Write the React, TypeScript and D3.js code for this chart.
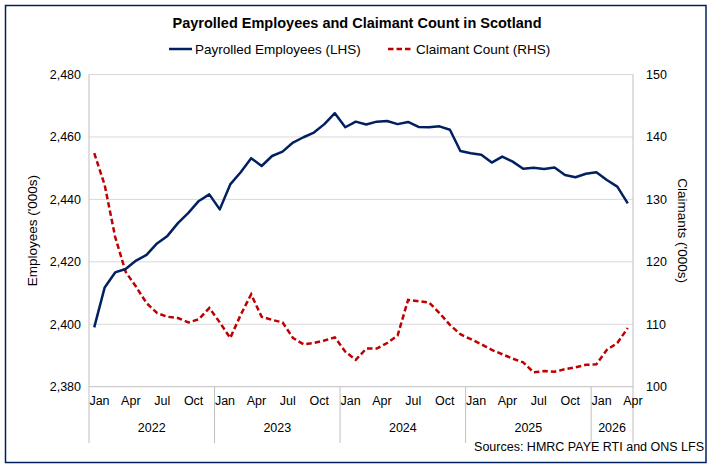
import React, { useEffect, useRef } from "react";
import * as d3 from "d3";

// monthly periods, Jan 2022 to Apr 2026
const periods = [
  "2022-01", "2022-02", "2022-03", "2022-04", "2022-05", "2022-06",
  "2022-07", "2022-08", "2022-09", "2022-10", "2022-11", "2022-12",
  "2023-01", "2023-02", "2023-03", "2023-04", "2023-05", "2023-06",
  "2023-07", "2023-08", "2023-09", "2023-10", "2023-11", "2023-12",
  "2024-01", "2024-02", "2024-03", "2024-04", "2024-05", "2024-06",
  "2024-07", "2024-08", "2024-09", "2024-10", "2024-11", "2024-12",
  "2025-01", "2025-02", "2025-03", "2025-04", "2025-05", "2025-06",
  "2025-07", "2025-08", "2025-09", "2025-10", "2025-11", "2025-12",
  "2026-01", "2026-02", "2026-03", "2026-04",
];

// payrolled employees ('000s), left axis
const employees = [
  2399.0, 2411.8, 2416.6, 2417.7, 2420.4, 2422.2, 2425.9, 2428.3, 2432.4, 2435.7, 2439.5, 2441.6,
  2436.8, 2444.8, 2448.7, 2453.2, 2450.7, 2453.9, 2455.3, 2458.2, 2459.9, 2461.4, 2464.1, 2467.6,
  2463.1, 2464.9, 2464.0, 2464.9, 2465.1, 2464.1, 2464.8, 2463.2, 2463.1, 2463.4, 2462.3, 2455.5,
  2454.8, 2454.3, 2451.8, 2453.7, 2452.1, 2449.8, 2450.1, 2449.7, 2450.2, 2447.8, 2447.1, 2448.2,
  2448.7, 2446.2, 2444.1, 2438.7,
];

// claimant count ('000s), right axis
const claimants = [
  137.4, 132.3, 124.0, 118.4, 116.0, 113.4, 111.8, 111.2, 111.0, 110.3, 110.8, 112.6,
  110.3, 107.8, 111.5, 114.8, 111.2, 110.7, 110.3, 107.8, 106.8, 107.0, 107.4, 107.9,
  105.6, 104.3, 106.1, 106.1, 107.0, 108.2, 113.9, 113.7, 113.5, 111.8, 109.9, 108.4,
  107.6, 106.8, 105.9, 105.2, 104.5, 103.9, 102.3, 102.5, 102.4, 102.8, 103.1, 103.5,
  103.6, 105.9, 107.0, 109.4,
];

const monthNames = ["Jan", "Feb", "Mar", "Apr", "May", "Jun", "Jul", "Aug", "Sep", "Oct", "Nov", "Dec"];
const tickMonths = ["Jan", "Apr", "Jul", "Oct"];
const years = ["2022", "2023", "2024", "2025", "2026"];
const employeeTicks = [2380, 2400, 2420, 2440, 2460, 2480];
const claimantTicks = [100, 110, 120, 130, 140, 150];

const W = 714;
const H = 468;
const FONT = "'Liberation Sans', Arial, sans-serif";
const NAVY = "#002060";
const RED = "#C00000";

export default function App() {
  const svgRef = useRef<SVGSVGElement>(null);

  useEffect(() => {
    const svg = d3.select(svgRef.current);
    svg.selectAll("*").remove();

    const left = 89, right = 633, top = 74.5, bottom = 386.7, axisFoot = 443;

    const x = d3.scaleBand().domain(periods).range([left, right]).padding(0);
    const bw = x.bandwidth();
    const yL = d3.scaleLinear().domain([2380, 2480]).range([bottom, top]);
    const yR = d3.scaleLinear().domain([100, 150]).range([bottom, top]);

    // outer frame
    svg.append("rect")
      .attr("x", 5.5).attr("y", 5.5)
      .attr("width", 700.5).attr("height", 457)
      .attr("fill", "#fff")
      .attr("stroke", NAVY).attr("stroke-width", 1.5);

    // gridlines
    svg.append("g").selectAll("line")
      .data(employeeTicks.slice(1))
      .join("line")
      .attr("x1", left).attr("x2", right)
      .attr("y1", (d) => yL(d)).attr("y2", (d) => yL(d))
      .attr("stroke", "#d9d9d9").attr("stroke-width", 1);

    // axis frame lines
    const axisColor = "#bfbfbf";
    svg.append("line")
      .attr("x1", left).attr("x2", right).attr("y1", bottom).attr("y2", bottom)
      .attr("stroke", axisColor);

    // year groups under the month labels
    const yearGroups = years.map((yr) => {
      const ps = periods.filter((p) => p.startsWith(yr));
      return { yr, x0: x(ps[0])!, x1: x(ps[ps.length - 1])! + bw };
    });
    const dividers = [yearGroups[0].x0, ...yearGroups.map((g) => g.x1)];
    svg.append("g").selectAll("line")
      .data(dividers)
      .join("line")
      .attr("x1", (d) => d).attr("x2", (d) => d)
      .attr("y1", (d) => (d === left || d === right ? top : bottom))
      .attr("y2", axisFoot)
      .attr("stroke", axisColor);

    svg.append("g").selectAll("text")
      .data(yearGroups)
      .join("text")
      .attr("x", (g) => (g.x0 + g.x1) / 2)
      .attr("y", 432)
      .attr("text-anchor", "middle")
      .attr("font-family", FONT).attr("font-size", 12.5)
      .text((g) => g.yr);

    const labelled = periods.filter((p) => tickMonths.includes(monthNames[+p.slice(5) - 1]));
    svg.append("g").selectAll("text")
      .data(labelled)
      .join("text")
      .attr("x", (p) => x(p)! + bw)
      .attr("y", 405)
      .attr("text-anchor", "middle")
      .attr("font-family", FONT).attr("font-size", 12.5)
      .text((p) => monthNames[+p.slice(5) - 1]);

    // left tick labels
    svg.append("g").selectAll("text")
      .data(employeeTicks)
      .join("text")
      .attr("x", 81)
      .attr("y", (d) => yL(d) + 4.5)
      .attr("text-anchor", "end")
      .attr("font-family", FONT).attr("font-size", 12.5)
      .text((d) => d3.format(",")(d));

    // right tick labels
    svg.append("g").selectAll("text")
      .data(claimantTicks)
      .join("text")
      .attr("x", 646)
      .attr("y", (d) => yR(d) + 4.5)
      .attr("font-family", FONT).attr("font-size", 12.5)
      .text((d) => d);

    // axis titles
    svg.append("text")
      .attr("transform", `translate(37, ${(top + bottom) / 2}) rotate(-90)`)
      .attr("text-anchor", "middle")
      .attr("font-family", FONT).attr("font-size", 13.5)
      .text("Employees ('000s)");
    svg.append("text")
      .attr("transform", `translate(678, ${(top + bottom) / 2}) rotate(90)`)
      .attr("text-anchor", "middle")
      .attr("font-family", FONT).attr("font-size", 13.5)
      .text("Claimants ('000s)");

    // series
    const cx = (i: number) => x(periods[i])! + bw / 2;
    const empLine = d3.line<number>().x((_, i) => cx(i)).y((d) => yL(d));
    const claLine = d3.line<number>().x((_, i) => cx(i)).y((d) => yR(d));

    svg.append("path")
      .datum(claimants)
      .attr("d", claLine)
      .attr("fill", "none")
      .attr("stroke", RED).attr("stroke-width", 2.5)
      .attr("stroke-dasharray", "5.5,3");
    svg.append("path")
      .datum(employees)
      .attr("d", empLine)
      .attr("fill", "none")
      .attr("stroke", NAVY).attr("stroke-width", 2.5)
      .attr("stroke-linejoin", "round");

    // title
    svg.append("text")
      .attr("x", 357).attr("y", 28)
      .attr("text-anchor", "middle")
      .attr("font-family", FONT).attr("font-size", 14.5).attr("font-weight", "bold")
      .text("Payrolled Employees and Claimant Count in Scotland");

    // legend
    const lg = svg.append("g").attr("font-family", FONT).attr("font-size", 13.5);
    lg.append("line").attr("x1", 169).attr("x2", 192).attr("y1", 49).attr("y2", 49)
      .attr("stroke", NAVY).attr("stroke-width", 2.5);
    lg.append("text").attr("x", 195).attr("y", 53.5).text("Payrolled Employees (LHS)");
    lg.append("line").attr("x1", 388).attr("x2", 412).attr("y1", 49).attr("y2", 49)
      .attr("stroke", RED).attr("stroke-width", 2.5).attr("stroke-dasharray", "5.5,3");
    lg.append("text").attr("x", 416).attr("y", 53.5).text("Claimant Count (RHS)");

    // source note
    svg.append("text")
      .attr("x", 704).attr("y", 451)
      .attr("text-anchor", "end")
      .attr("font-family", FONT).attr("font-size", 12.5)
      .text("Sources: HMRC PAYE RTI and ONS LFS");
  }, []);

  return (
    <svg
      ref={svgRef}
      width={W}
      height={H}
      style={{ position: "absolute", left: 0, top: 0, background: "#fff" }}
    />
  );
}
